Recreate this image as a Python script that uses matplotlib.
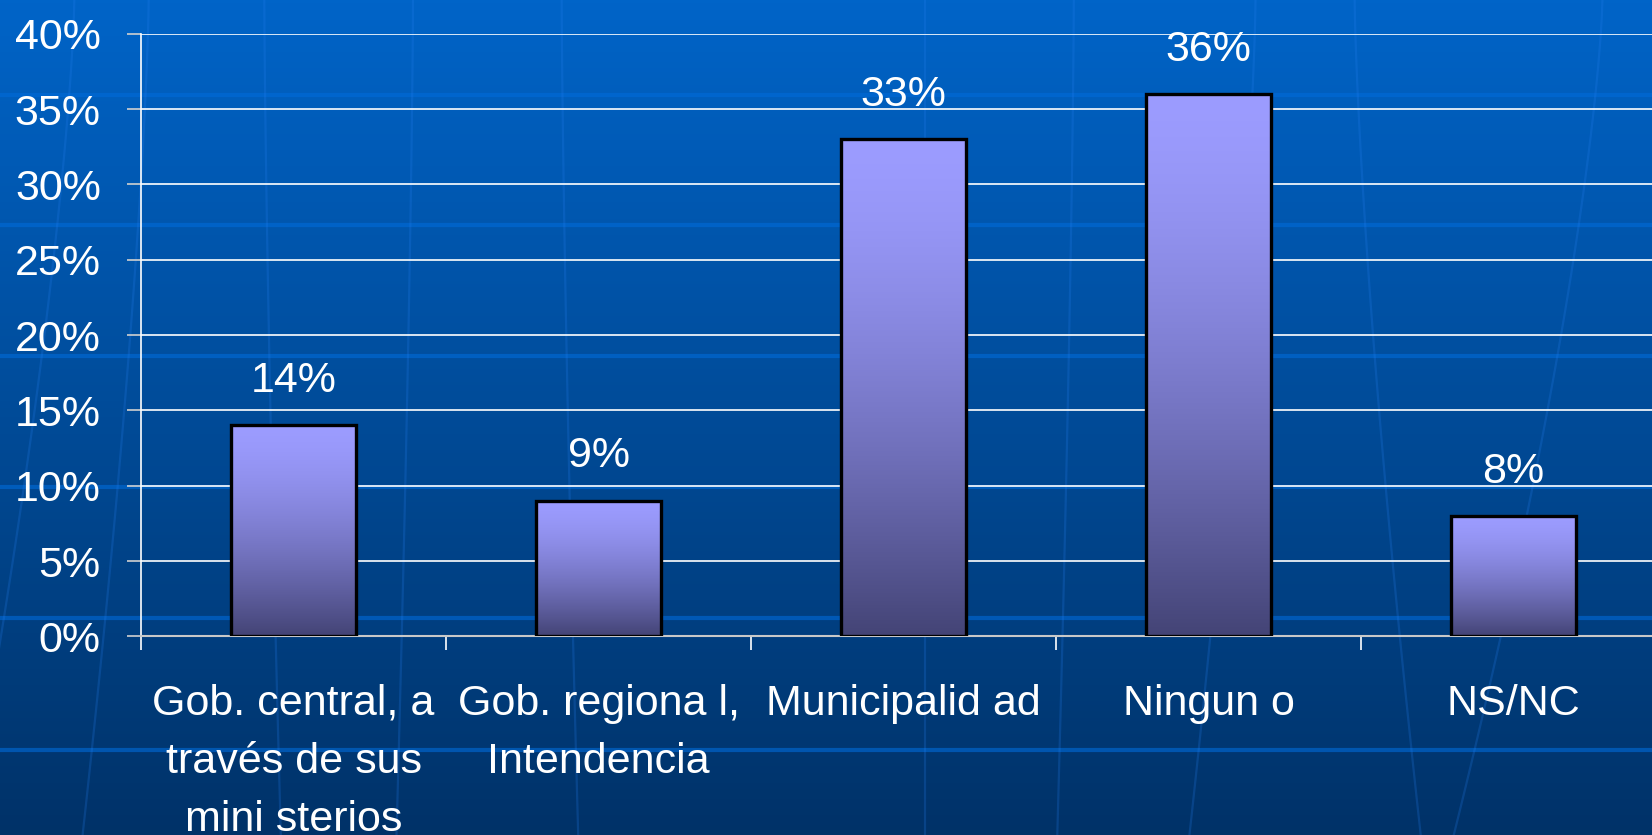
import matplotlib
matplotlib.use("Agg")
import matplotlib.pyplot as plt
import numpy as np
from matplotlib.lines import Line2D

plt.rcParams['font.family'] = ['Liberation Sans', 'DejaVu Sans']

# data
categories = ["Gob. central, a\ntravés de sus\nmini sterios",
              "Gob. regiona l,\nIntendencia",
              "Municipalid ad",
              "Ningun o",
              "NS/NC"]
values = [14, 9, 33, 36, 8]
labels = ["14%", "9%", "33%", "36%", "8%"]
yticks = [0, 5, 10, 15, 20, 25, 30, 35, 40]

fig = plt.figure(figsize=(16.52, 8.35), dpi=100)

# slide background: vertical blue gradient
bg = fig.add_axes([0, 0, 1, 1], zorder=0)
t = np.linspace(0, 1, 256)[:, None]
top = np.array([0, 100, 200]) / 255
bot = np.array([0, 50, 104]) / 255
grad = top[None, None, :] * (1 - t[..., None]) + bot[None, None, :] * t[..., None]
bg.imshow(grad, aspect='auto', extent=[0, 1, 0, 1], origin='upper')
bg.set_xlim(0, 1)
bg.set_ylim(0, 1)
bg.axis('off')

# faint decoration of the template (horizontal bands and bent meridians)
for yy in [95, 225, 356, 487, 618, 750]:
    bg.add_line(Line2D([0, 1], [1 - yy / 835] * 2, color=(0.0, 0.42, 0.85),
                       lw=3, alpha=0.6))
s = np.linspace(0, 1, 50)
for x_top, x_bot in [(0.045, -0.02), (0.09, 0.05), (0.16, 0.17), (0.25, 0.24),
                     (0.34, 0.35), (0.56, 0.56), (0.65, 0.64), (0.76, 0.72),
                     (0.82, 0.86), (0.97, 0.88)]:
    xs = x_top + (x_bot - x_top) * s ** 1.4
    bg.plot(xs, 1 - s, color=(0.15, 0.5, 0.95), lw=1.6, alpha=0.22)

ax = fig.add_axes([0.0854, 0.2379, 0.9231, 0.7216], zorder=1)
ax.set_facecolor('none')

x = np.arange(len(values))
width = 0.41
bars = ax.bar(x, values, width=width, facecolor='none', edgecolor='black',
              linewidth=2.4, zorder=4)

# per-bar gradient: light lavender at top, dark slate at bottom
g = np.linspace(0, 1, 256) ** 1.5
c_top = np.array([156, 156, 255]) / 255
c_bot = np.array([68, 68, 118]) / 255
bar_img = (c_top[None, :] * (1 - g[:, None]) + c_bot[None, :] * g[:, None])[:, None, :]
for b in bars:
    ax.imshow(bar_img, aspect='auto', origin='upper', zorder=3,
              extent=[b.get_x(), b.get_x() + b.get_width(), 0, b.get_height()])

for xi, v, lab in zip(x, values, labels):
    ax.annotate(lab, (xi, v), xytext=(0, 24), textcoords='offset points',
                ha='center', va='baseline', color='white', fontsize=31)

ax.set_xlim(-0.5, len(values) - 0.5)
ax.set_ylim(0, 40)
ax.set_yticks(yticks)
ax.set_yticklabels([f"{v}%" for v in yticks])
ax.yaxis.grid(True, color='white', lw=1.2, zorder=1)
ax.set_axisbelow(True)

ax.set_xticks(x)
ax.set_xticklabels(categories, linespacing=1.58)
ax.set_xticks(np.arange(len(values)) - 0.5, minor=True)
ax.tick_params(axis='x', which='major', length=0, pad=34, labelsize=31,
               labelcolor='white')
ax.tick_params(axis='x', which='minor', length=10, width=1.2, color='white')
ax.tick_params(axis='y', length=10, width=1.2, color='#d0d0d0', pad=19,
               labelsize=31, labelcolor='white')

for side in ['top', 'right']:
    ax.spines[side].set_visible(False)
ax.spines['left'].set_color('white')
ax.spines['left'].set_linewidth(1.2)
ax.spines['bottom'].set_color('#c8c8c8')
ax.spines['bottom'].set_linewidth(1.5)

fig.savefig("out.png", dpi=100)
